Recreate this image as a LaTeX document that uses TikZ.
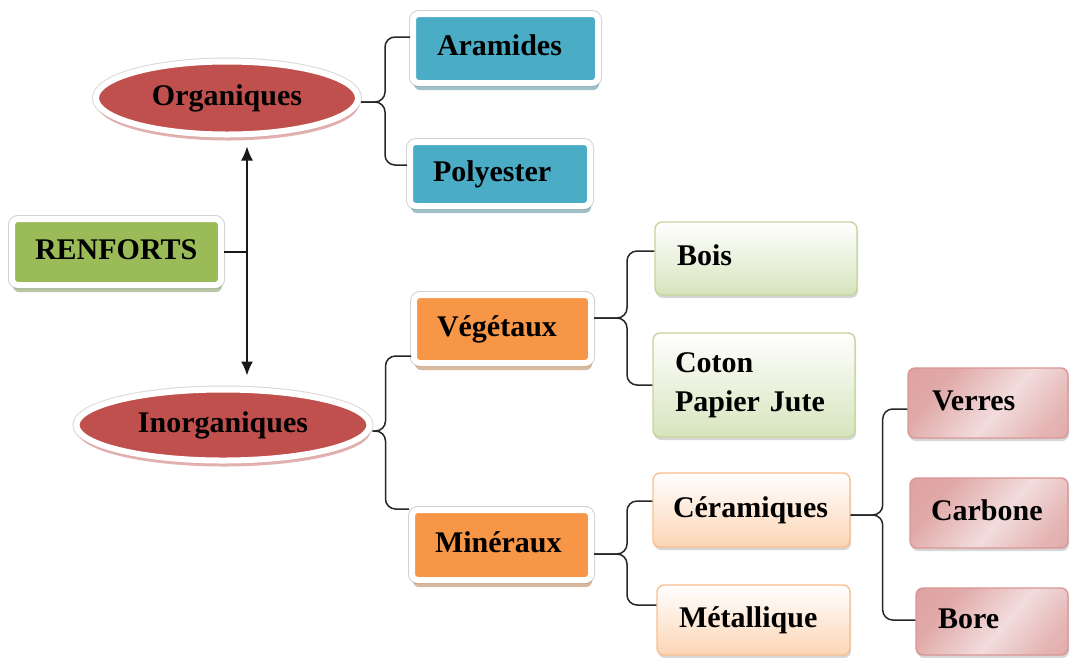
\documentclass[tikz,border=0pt]{standalone}
\usepackage{fontspec}
\setmainfont{Liberation Serif}
\usepackage{tikz}
\usetikzlibrary{shapes.geometric, shadows, arrows.meta}

\definecolor{renfortgreen}{HTML}{9BBB59}
\definecolor{organblue}{HTML}{4BACC6}
\definecolor{minorange}{HTML}{F79646}
\definecolor{discred}{HTML}{C0504D}
\definecolor{boisline}{HTML}{C3D69B}
\definecolor{boisfill}{HTML}{D7E4BD}
\definecolor{ceramline}{HTML}{FAC090}
\definecolor{ceramfill}{HTML}{FCD5B5}
\definecolor{verreline}{HTML}{D99694}
\definecolor{verredark}{HTML}{DC9C9B}
\definecolor{verrelight}{HTML}{F2DCDC}

% glassy pink fill of the last column
\pgfdeclarehorizontalshading{pinkglass}{100bp}{color(0bp)=(verredark); color(30bp)=(verredark!80!verrelight); color(55bp)=(verrelight); color(75bp)=(verredark!60!verrelight); color(100bp)=(verredark)}

\tikzset{
  txt/.style={inner xsep=0pt, inner ysep=0pt, text height=21pt, text depth=7pt, align=left},
  framed/.style={txt, rounded corners=6pt, fill=#1,
    preaction={draw=black!18, line width=8pt},
    draw=white, line width=6pt,
    drop shadow={shadow xshift=1pt, shadow yshift=-7pt, fill=#1!55!gray, opacity=.6}},
  disc/.style={ellipse, inner sep=0pt, fill=discred,
    preaction={draw=black!15, line width=8pt},
    draw=white, line width=6pt,
    drop shadow={shadow xshift=1pt, shadow yshift=-6pt, fill=discred!55!white, opacity=.8}},
  gradbox/.style 2 args={txt, rounded corners=7pt, draw=#1, line width=1.4pt,
    top color=white, bottom color=#2,
    drop shadow={shadow xshift=1pt, shadow yshift=-3pt, fill=black!45, opacity=.35}},
  pinkbox/.style={txt, rounded corners=7pt, draw=verreline, line width=1.4pt,
    shading=pinkglass, shading angle=-40,
    drop shadow={shadow xshift=1pt, shadow yshift=-3pt, fill=black!45, opacity=.35}},
  branch/.style={draw=black!85, line width=1.5pt, rounded corners=10pt},
  trunkline/.style={draw=black!90, line width=1.6pt}
}

\begin{document}
\begin{tikzpicture}[x=1pt, y=-1pt, font=\fontsize{30}{38.5}\selectfont\bfseries]
    % Page frame
    \fill[white] (0,0) rectangle (1070,657);
    \useasboundingbox (0,0) rectangle (1070,657);

    % Root and the two families
    \node[framed=renfortgreen, minimum width=209pt, minimum height=66pt, text width=163pt] (ren) at (116.5,252) {RENFORTS};
    \node[disc, minimum width=262pt, minimum height=73pt] (org) at (227,98) {Organiques};
    \node[disc, minimum width=293pt, minimum height=71pt] (ino) at (223,425) {Inorganiques};

    % Organic fibres
    \node[framed=organblue, minimum width=185pt, minimum height=69pt, text width=137pt] (aram) at (505.5,48.5) {Aramides};
    \node[framed=organblue, minimum width=180pt, minimum height=64pt, text width=134pt] (poly) at (500,174) {Polyester};

    % Inorganic fibres
    \node[framed=minorange, minimum width=177pt, minimum height=68pt, text width=131pt] (veg) at (502.5,329) {Végétaux};
    \node[framed=minorange, minimum width=179pt, minimum height=70pt, text width=133pt] (min) at (501.5,545) {Minéraux};

    % Vegetable fibres
    \node[gradbox={boisline}{boisfill}, minimum width=202pt, minimum height=73pt, text width=158pt] (bois) at (756,258.5) {Bois};
    \node[gradbox={boisline}{boisfill}, minimum width=202pt, minimum height=104pt, text width=158pt, text depth=45.5pt] (coton) at (754,385) {Coton\\Papier Jute};

    % Mineral fibres
    \node[gradbox={ceramline}{ceramfill}, minimum width=197pt, minimum height=74pt, text width=157pt] (ceram) at (751.5,510) {Céramiques};
    \node[gradbox={ceramline}{ceramfill}, minimum width=193pt, minimum height=70pt, text width=149pt] (metal) at (753.5,620) {Métallique};

    % Ceramic fibres
    \node[pinkbox, minimum width=160pt, minimum height=70pt, text width=112pt] (verres) at (988,403) {Verres};
    \node[pinkbox, minimum width=158pt, minimum height=70pt, text width=116pt] (carb) at (989,513) {Carbone};
    \node[pinkbox, minimum width=152pt, minimum height=67pt, text width=108pt] (bore) at (992,621.5) {Bore};

    % Trunk with the two arrows
    \coordinate (trunk) at (247,252);
    \coordinate (orgtip) at ([yshift=-9pt]org.south);
    \coordinate (inotip) at ([yshift=11pt]ino.north);
    \draw[trunkline] (ren.east) -- (trunk);
    \draw[trunkline, -{Latex[length=14pt, width=12pt]}] (trunk) -- (trunk |- orgtip);
    \draw[trunkline, -{Latex[length=14pt, width=12pt]}] (trunk) -- (trunk |- inotip);

    % Branches
    \draw[branch] ([yshift=-4pt]org.east) -- ++(24,0) |- ([yshift=11.5pt]aram.west);
    \draw[branch] ([yshift=-4pt]org.east) -- ++(24,0) |- ([yshift=9pt]poly.west);
    \draw[branch] ([yshift=-6pt]ino.east) -- ++(13,0) |- ([yshift=-27pt]veg.west);
    \draw[branch] ([yshift=-6pt]ino.east) -- ++(13,0) |- ([yshift=36pt]min.west);
    \draw[branch] ([yshift=11pt]veg.east) -- ++(33,0) |- ([yshift=7.5pt]bois.west);
    \draw[branch] ([yshift=11pt]veg.east) -- ++(33,0) |- (coton.west);
    \draw[branch] ([yshift=-9pt]min.east) -- ++(33,0) |- ([yshift=9pt]ceram.west);
    \draw[branch] ([yshift=-9pt]min.east) -- ++(33,0) |- ([yshift=15pt]metal.west);
    \draw[branch] ([yshift=-5pt]ceram.east) -- ++(32,0) |- ([yshift=-6pt]verres.west);
    \draw[branch] ([yshift=-5pt]ceram.east) -- ++(32,0) |- ([yshift=1.5pt]bore.west);
\end{tikzpicture}
\end{document}
